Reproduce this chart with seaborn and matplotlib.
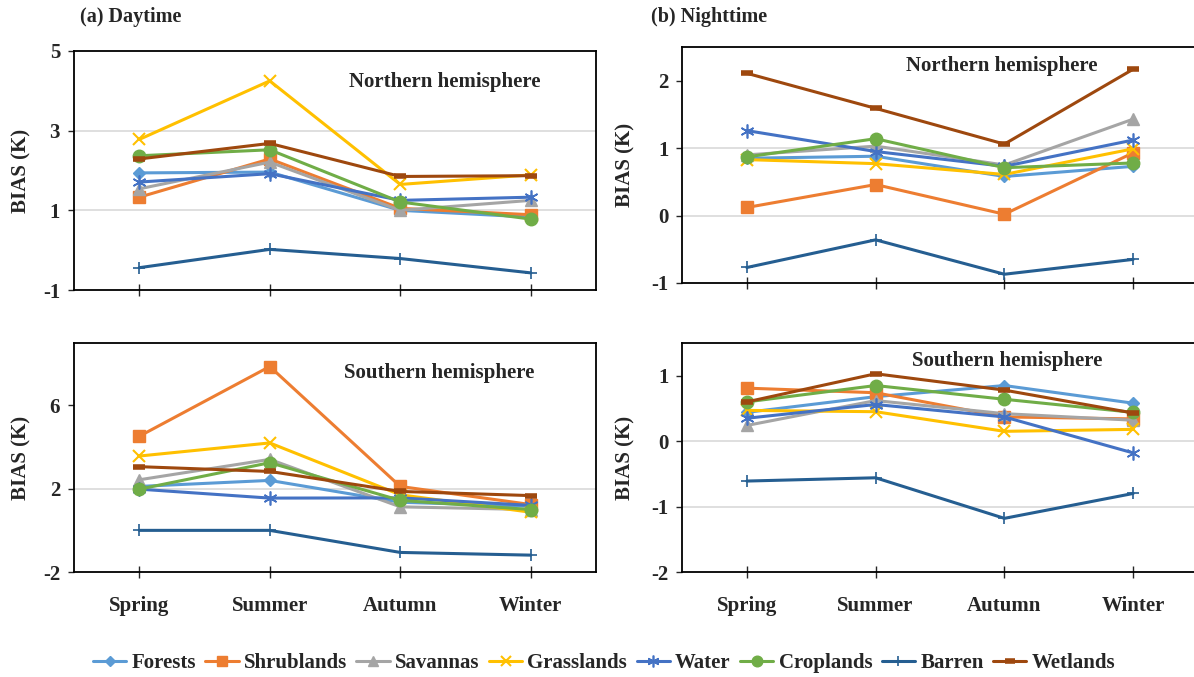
import numpy as np
import pandas as pd
import matplotlib
matplotlib.use('Agg')
import matplotlib.pyplot as plt
import seaborn as sns
from matplotlib.lines import Line2D

seasons = ['Spring', 'Summer', 'Autumn', 'Winter']
covers = ['Forests', 'Shrublands', 'Savannas', 'Grasslands', 'Water', 'Croplands', 'Barren', 'Wetlands']

# (a) daytime, northern hemisphere
day_north = {
    'Forests':    [1.94, 1.96, 1.00, 0.83],
    'Shrublands': [1.33, 2.29, 1.05, 0.89],
    'Savannas':   [1.54, 2.21, 1.00, 1.25],
    'Grasslands': [2.78, 4.25, 1.65, 1.89],
    'Water':      [1.71, 1.92, 1.25, 1.33],
    'Croplands':  [2.37, 2.52, 1.21, 0.78],
    'Barren':     [-0.44, 0.02, -0.21, -0.57],
    'Wetlands':   [2.29, 2.68, 1.85, 1.87],
}
# (a) daytime, southern hemisphere
day_south = {
    'Forests':    [2.11, 2.40, 1.35, 1.16],
    'Shrublands': [4.52, 7.87, 2.11, 1.24],
    'Savannas':   [2.43, 3.41, 1.13, 1.00],
    'Grasslands': [3.57, 4.20, 1.71, 0.87],
    'Water':      [1.98, 1.55, 1.56, 1.20],
    'Croplands':  [1.98, 3.25, 1.44, 1.00],
    'Barren':     [0.00, 0.00, -1.06, -1.19],
    'Wetlands':   [3.06, 2.83, 1.87, 1.67],
}
# (b) nighttime, northern hemisphere
night_north = {
    'Forests':    [0.85, 0.88, 0.58, 0.73],
    'Shrublands': [0.12, 0.46, 0.02, 0.93],
    'Savannas':   [0.90, 1.03, 0.75, 1.43],
    'Grasslands': [0.83, 0.77, 0.61, 0.99],
    'Water':      [1.26, 0.95, 0.73, 1.12],
    'Croplands':  [0.87, 1.14, 0.71, 0.78],
    'Barren':     [-0.77, -0.36, -0.87, -0.65],
    'Wetlands':   [2.11, 1.59, 1.06, 2.17],
}
# (b) nighttime, southern hemisphere
night_south = {
    'Forests':    [0.44, 0.68, 0.85, 0.58],
    'Shrublands': [0.81, 0.74, 0.37, 0.34],
    'Savannas':   [0.24, 0.62, 0.42, 0.32],
    'Grasslands': [0.47, 0.45, 0.15, 0.18],
    'Water':      [0.35, 0.56, 0.37, -0.18],
    'Croplands':  [0.60, 0.85, 0.64, 0.44],
    'Barren':     [-0.61, -0.56, -1.18, -0.80],
    'Wetlands':   [0.60, 1.03, 0.78, 0.43],
}

colors = {
    'Forests': '#5B9BD5', 'Shrublands': '#ED7D31', 'Savannas': '#A5A5A5',
    'Grasslands': '#FFC000', 'Water': '#4472C4', 'Croplands': '#70AD47',
    'Barren': '#255E91', 'Wetlands': '#9E480E',
}
markers = {
    'Forests': 'D', 'Shrublands': 's', 'Savannas': '^', 'Grasslands': 'x',
    'Water': (6, 2, 0), 'Croplands': 'o', 'Barren': '+', 'Wetlands': '_',
}
msizes = {
    'Forests': 6.5, 'Shrublands': 8, 'Savannas': 8, 'Grasslands': 9,
    'Water': 10, 'Croplands': 9, 'Barren': 9, 'Wetlands': 8,
}
mews = {
    'Forests': 1, 'Shrublands': 1, 'Savannas': 1, 'Grasslands': 1.5,
    'Water': 1.2, 'Croplands': 1, 'Barren': 1.2, 'Wetlands': 4,
}

sns.set_style('white')
plt.rcParams['font.family'] = ['Liberation Serif', 'DejaVu Serif']
plt.rcParams['font.weight'] = 'bold'

W, H = 1194, 677
fig = plt.figure(figsize=(W / 100, H / 100), dpi=100)


def px_axes(x0, x1, y0, y1):
    return fig.add_axes([x0 / W, 1 - y1 / H, (x1 - x0) / W, (y1 - y0) / H])


def draw(ax, data, ylim, yticks, label, label_xy, ylab_x, show_x):
    for c in covers:
        df = pd.DataFrame({'season': seasons, 'bias': data[c]})
        sns.lineplot(data=df, x='season', y='bias', ax=ax, color=colors[c],
                     marker=markers[c], markersize=msizes[c], lw=2.2,
                     markeredgecolor=colors[c], markeredgewidth=mews[c],
                     sort=False)
    ax.set_xlim(-0.5, 3.5)
    ax.set_ylim(*ylim)
    ax.set_yticks(yticks)
    ax.set_yticklabels([str(t) for t in yticks])
    for t in yticks[1:-1]:
        ax.axhline(t, color='#D9D9D9', lw=1.2, zorder=0)
    ax.set_xticks(range(4))
    if show_x:
        ax.set_xticklabels(seasons)
    else:
        ax.set_xticklabels([])
    ax.set_xlabel('')
    ax.set_ylabel('BIAS (K)', fontsize=15, fontweight='bold')
    ax.yaxis.set_label_coords(ylab_x, 0.5)
    ax.tick_params(axis='y', direction='out', length=4, width=1, pad=6,
                   labelsize=15, left=True)
    ax.tick_params(axis='x', direction='inout', length=8, width=1, pad=13,
                   labelsize=15, bottom=True)
    for s in ax.spines.values():
        s.set_color('black')
        s.set_linewidth(1.3)
    ax.text(label_xy[0], label_xy[1], label, transform=ax.transAxes,
            ha='center', va='center', fontsize=15, fontweight='bold')
    leg = ax.get_legend()
    if leg:
        leg.remove()


ax1 = px_axes(74, 596, 51, 290)
draw(ax1, day_north, (-1, 5), [-1, 1, 3, 5], 'Northern hemisphere',
     (0.71, 0.87), -0.082, False)
ax2 = px_axes(74, 596, 343, 572)
draw(ax2, day_south, (-2, 9), [-2, 2, 6], 'Southern hemisphere',
     (0.70, 0.87), -0.082, True)
ax3 = px_axes(682.5, 1197.5, 47, 283)
draw(ax3, night_north, (-1, 2.5), [-1, 0, 1, 2], 'Northern hemisphere',
     (0.62, 0.92), -0.092, False)
ax4 = px_axes(682.5, 1197.5, 343, 572)
draw(ax4, night_south, (-2, 1.5), [-2, -1, 0, 1], 'Southern hemisphere',
     (0.63, 0.92), -0.092, True)

fig.text(80 / W, 1 - 17 / H, '(a) Daytime', fontsize=14.5, fontweight='bold',
         ha='left', va='center')
fig.text(651 / W, 1 - 17 / H, '(b) Nighttime', fontsize=14.5, fontweight='bold',
         ha='left', va='center')

handles = [Line2D([], [], color=colors[c], marker=markers[c], lw=2.2,
                  markersize=msizes[c] * 0.85, markeredgecolor=colors[c],
                  markeredgewidth=mews[c]) for c in covers]
fig.legend(handles, covers, loc='center', bbox_to_anchor=(604 / W, 1 - 663 / H),
           ncol=8, frameon=False, handlelength=1.6,
           handletextpad=0.25, columnspacing=0.45,
           prop={'weight': 'bold', 'size': 15})

fig.savefig('out.png', dpi=100)
